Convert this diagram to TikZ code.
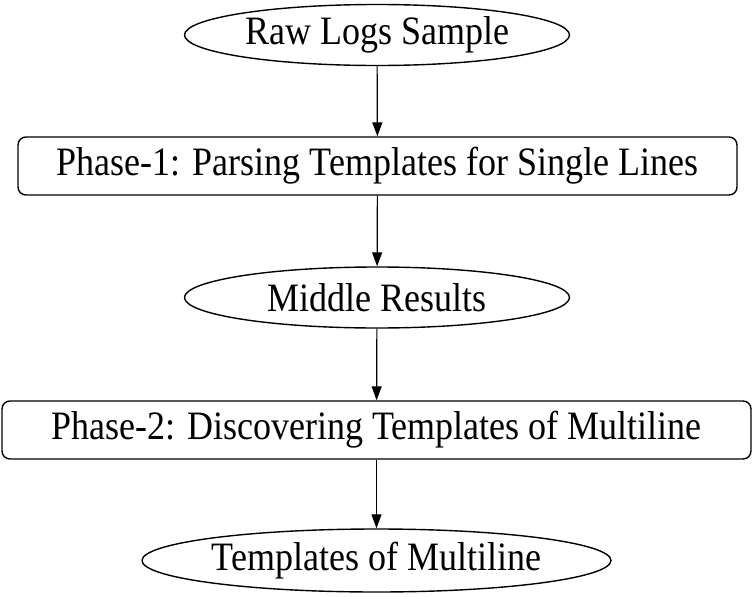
\documentclass[tikz,border=0pt]{standalone}
\usepackage{fontspec}
\setmainfont{Liberation Serif}
\usetikzlibrary{shapes.geometric,arrows.meta}
\newcommand{\tallt}[1]{\scalebox{1}[1.12]{#1}}
\begin{document}
\begin{tikzpicture}[x=1pt,y=-1pt,
  base/.style={draw=black,line width=1.4pt,inner sep=0pt,font=\fontsize{36}{40}\selectfont,text=black},
  ell/.style={base,ellipse},
  rbox/.style={base,rectangle,rounded corners=8pt},
  conn/.style={line width=1.2pt,-{Triangle[length=14pt,width=10pt]}}]
\useasboundingbox (0,0) rectangle (755,597);
\node[ell,minimum width=385pt,minimum height=61pt] (e1) at (377,35) {\tallt{Raw Logs Sample}};
\node[rbox,minimum width=719pt,minimum height=58pt] (b1) at (377.5,166) {\tallt{Phase-1: Parsing Templates for Single Lines}};
\node[ell,minimum width=385pt,minimum height=61pt] (e2) at (377,297.5) {\tallt{Middle Results}};
\node[rbox,minimum width=749pt,minimum height=58pt] (b2) at (376.5,430) {\tallt{Phase-2: Discovering Templates of Multiline}};
\node[ell,minimum width=469pt,minimum height=63pt] (e3) at (376.5,560.5) {\tallt{Templates of Multiline}};
\draw[conn] (e1) -- (b1);
\draw[conn] (b1) -- (e2);
\draw[conn] (e2) -- (b2);
\draw[conn] (b2) -- (e3);
\end{tikzpicture}
\end{document}
